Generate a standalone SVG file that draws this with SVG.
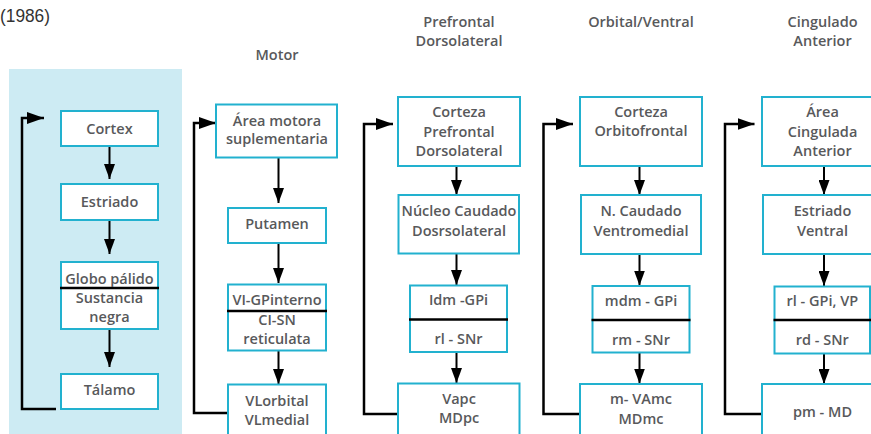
<svg xmlns="http://www.w3.org/2000/svg" width="871" height="434" viewBox="0 0 871 434">
  <style>
    .box { fill: #ffffff; stroke: #22b1cf; stroke-width: 2; }
    .div { stroke: #000000; stroke-width: 2.5; }
    .t { font-family: "Open Sans", "Noto Sans", "DejaVu Sans", sans-serif; font-weight: 600; font-size: 14.5px; fill: #58595b; text-anchor: middle; }
    .step { fill: none; stroke: #000000; stroke-width: 2; marker-end: url(#head); }
    .loop { fill: none; stroke: #000000; stroke-width: 2.5; stroke-linejoin: miter; marker-end: url(#loophead); }
    .year { font-family: "Liberation Sans", Arial, sans-serif; font-size: 18px; fill: #333333; }
  </style>
  <defs>
    <marker id="head" markerUnits="userSpaceOnUse" markerWidth="15" markerHeight="11" refX="15" refY="5.5" orient="auto">
      <path d="M0,0 L15,5.5 L0,11 Z" fill="#000000"/>
    </marker>
    <marker id="loophead" markerUnits="userSpaceOnUse" markerWidth="17" markerHeight="12" refX="17" refY="6" orient="auto">
      <path d="M0,0 L17,6 L0,12 Z" fill="#000000"/>
    </marker>
  </defs>

  <text class="year" x="0" y="22" textLength="50" lengthAdjust="spacingAndGlyphs">(1986)</text>

  <!-- general circuit panel -->
  <rect x="9" y="69" width="173" height="370" fill="#cdebf3"/>

  <!-- column titles -->
  <g id="titles">
    <text class="t" x="277" y="60">Motor</text>
    <text class="t" x="459" y="26.7">Prefrontal</text>
    <text class="t" x="459" y="46">Dorsolateral</text>
    <text class="t" x="641" y="26.7">Orbital/Ventral</text>
    <text class="t" x="822.5" y="26.7">Cingulado</text>
    <text class="t" x="822.5" y="46">Anterior</text>
  </g>

  <!-- connectors -->
  <g id="connectors">
    <line class="step" x1="109.5" y1="147" x2="109.5" y2="179"/>
    <line class="step" x1="109.5" y1="221" x2="109.5" y2="254"/>
    <line class="step" x1="109.5" y1="330" x2="109.5" y2="367"/>
    <polyline class="loop" points="56,409 22,409 22,118 44,118"/>

    <line class="step" x1="278.5" y1="158" x2="278.5" y2="203"/>
    <line class="step" x1="278.5" y1="243" x2="278.5" y2="283"/>
    <line class="step" x1="278.5" y1="351" x2="278.5" y2="384"/>
    <polyline class="loop" points="228,413 194,413 194,123 216,123"/>

    <line class="step" x1="456.5" y1="166" x2="456.5" y2="195"/>
    <line class="step" x1="456.5" y1="253.5" x2="456.5" y2="285"/>
    <line class="step" x1="456.5" y1="352" x2="456.5" y2="383"/>
    <polyline class="loop" points="398,414 364,414 364,124 393,124"/>

    <line class="step" x1="639.5" y1="166" x2="639.5" y2="195"/>
    <line class="step" x1="639.5" y1="254" x2="639.5" y2="285.5"/>
    <line class="step" x1="639.5" y1="352.5" x2="639.5" y2="383.5"/>
    <polyline class="loop" points="580,414 543.5,414 543.5,124 573,124"/>

    <line class="step" x1="824" y1="166" x2="824" y2="195"/>
    <line class="step" x1="824" y1="254" x2="824" y2="286"/>
    <line class="step" x1="824" y1="353.5" x2="824" y2="384"/>
    <polyline class="loop" points="762,414 725,414 725,124 754.5,124"/>
  </g>

  <!-- general circuit -->
  <g id="cortex">
    <rect class="box" x="61" y="111" width="97" height="35"/>
    <text class="t" x="109.5" y="133.5">Cortex</text>
  </g>
  <g id="estriado">
    <rect class="box" x="61" y="184" width="97" height="36"/>
    <text class="t" x="109.5" y="207">Estriado</text>
  </g>
  <g id="globo-palido">
    <rect class="box" x="61" y="262" width="97" height="67"/>
    <line class="div" x1="60" y1="288" x2="159" y2="288"/>
    <text class="t" x="109.5" y="284">Globo pálido</text>
    <text class="t" x="109.5" y="302.7">Sustancia</text>
    <text class="t" x="109.5" y="322">negra</text>
  </g>
  <g id="talamo">
    <rect class="box" x="61" y="374" width="97" height="35"/>
    <text class="t" x="109.5" y="395">Tálamo</text>
  </g>

  <!-- motor circuit -->
  <g id="motor-area">
    <rect class="box" x="216" y="104.5" width="121" height="53"/>
    <text class="t" x="277" y="126">Área motora</text>
    <text class="t" x="277" y="144.3">suplementaria</text>
  </g>
  <g id="putamen">
    <rect class="box" x="228" y="208" width="98" height="35"/>
    <text class="t" x="277" y="228.7">Putamen</text>
  </g>
  <g id="motor-gpi">
    <rect class="box" x="228" y="284.5" width="98" height="66"/>
    <line class="div" x1="227" y1="311" x2="327" y2="311"/>
    <text class="t" x="277" y="305">VI-GPinterno</text>
    <text class="t" x="277" y="325">CI-SN</text>
    <text class="t" x="277" y="344.3">reticulata</text>
  </g>
  <g id="motor-thal">
    <rect class="box" x="228" y="384.5" width="98" height="60"/>
    <text class="t" x="277" y="406">VLorbital</text>
    <text class="t" x="277" y="425">VLmedial</text>
  </g>

  <!-- dorsolateral prefrontal circuit -->
  <g id="dlpf-cortex">
    <rect class="box" x="398" y="97" width="122" height="69"/>
    <text class="t" x="459" y="116.7">Corteza</text>
    <text class="t" x="459" y="136.7">Prefrontal</text>
    <text class="t" x="459" y="156">Dorsolateral</text>
  </g>
  <g id="dlpf-caudate">
    <rect class="box" x="398.5" y="195" width="120.5" height="58.5"/>
    <text class="t" x="459" y="216">Núcleo Caudado</text>
    <text class="t" x="459" y="235.7">Dosrsolateral</text>
  </g>
  <g id="dlpf-gpi">
    <rect class="box" x="410" y="285.5" width="97" height="66.5"/>
    <line class="div" x1="409" y1="319.5" x2="508" y2="319.5"/>
    <text class="t" x="458.5" y="305.3">Idm -GPi</text>
    <text class="t" x="458.5" y="344">rl - SNr</text>
  </g>
  <g id="dlpf-thal">
    <rect class="box" x="398" y="383.5" width="121.5" height="60"/>
    <text class="t" x="459" y="404.3">Vapc</text>
    <text class="t" x="459" y="423.3">MDpc</text>
  </g>

  <!-- orbital / ventral circuit -->
  <g id="orb-cortex">
    <rect class="box" x="580" y="97" width="122" height="69"/>
    <text class="t" x="641" y="116.7">Corteza</text>
    <text class="t" x="641" y="136">Orbitofrontal</text>
  </g>
  <g id="orb-caudate">
    <rect class="box" x="581" y="195" width="120" height="59"/>
    <text class="t" x="641" y="216">N. Caudado</text>
    <text class="t" x="641" y="235.7">Ventromedial</text>
  </g>
  <g id="orb-gpi">
    <rect class="box" x="592.5" y="286" width="97" height="66.5"/>
    <line class="div" x1="591.5" y1="320" x2="690.5" y2="320"/>
    <text class="t" x="641" y="306">mdm - GPi</text>
    <text class="t" x="641" y="345.3">rm - SNr</text>
  </g>
  <g id="orb-thal">
    <rect class="box" x="580" y="384" width="122" height="60"/>
    <text class="t" x="641" y="404.3">m- VAmc</text>
    <text class="t" x="641" y="423.7">MDmc</text>
  </g>

  <!-- anterior cingulate circuit -->
  <g id="cing-cortex">
    <rect class="box" x="762" y="97" width="122" height="69"/>
    <text class="t" x="822.5" y="116.7">Área</text>
    <text class="t" x="822.5" y="136.7">Cingulada</text>
    <text class="t" x="822.5" y="156">Anterior</text>
  </g>
  <g id="cing-striatum">
    <rect class="box" x="763" y="195" width="120" height="59"/>
    <text class="t" x="822.5" y="216">Estriado</text>
    <text class="t" x="822.5" y="235.7">Ventral</text>
  </g>
  <g id="cing-gpi">
    <rect class="box" x="774.5" y="286.5" width="95.5" height="67"/>
    <line class="div" x1="773.5" y1="320" x2="872" y2="320"/>
    <text class="t" x="822.3" y="306">rl - GPi, VP</text>
    <text class="t" x="822.3" y="345.3">rd - SNr</text>
  </g>
  <g id="cing-thal">
    <rect class="box" x="762" y="384" width="122" height="60"/>
    <text class="t" x="822.5" y="416.7">pm - MD</text>
  </g>
</svg>
